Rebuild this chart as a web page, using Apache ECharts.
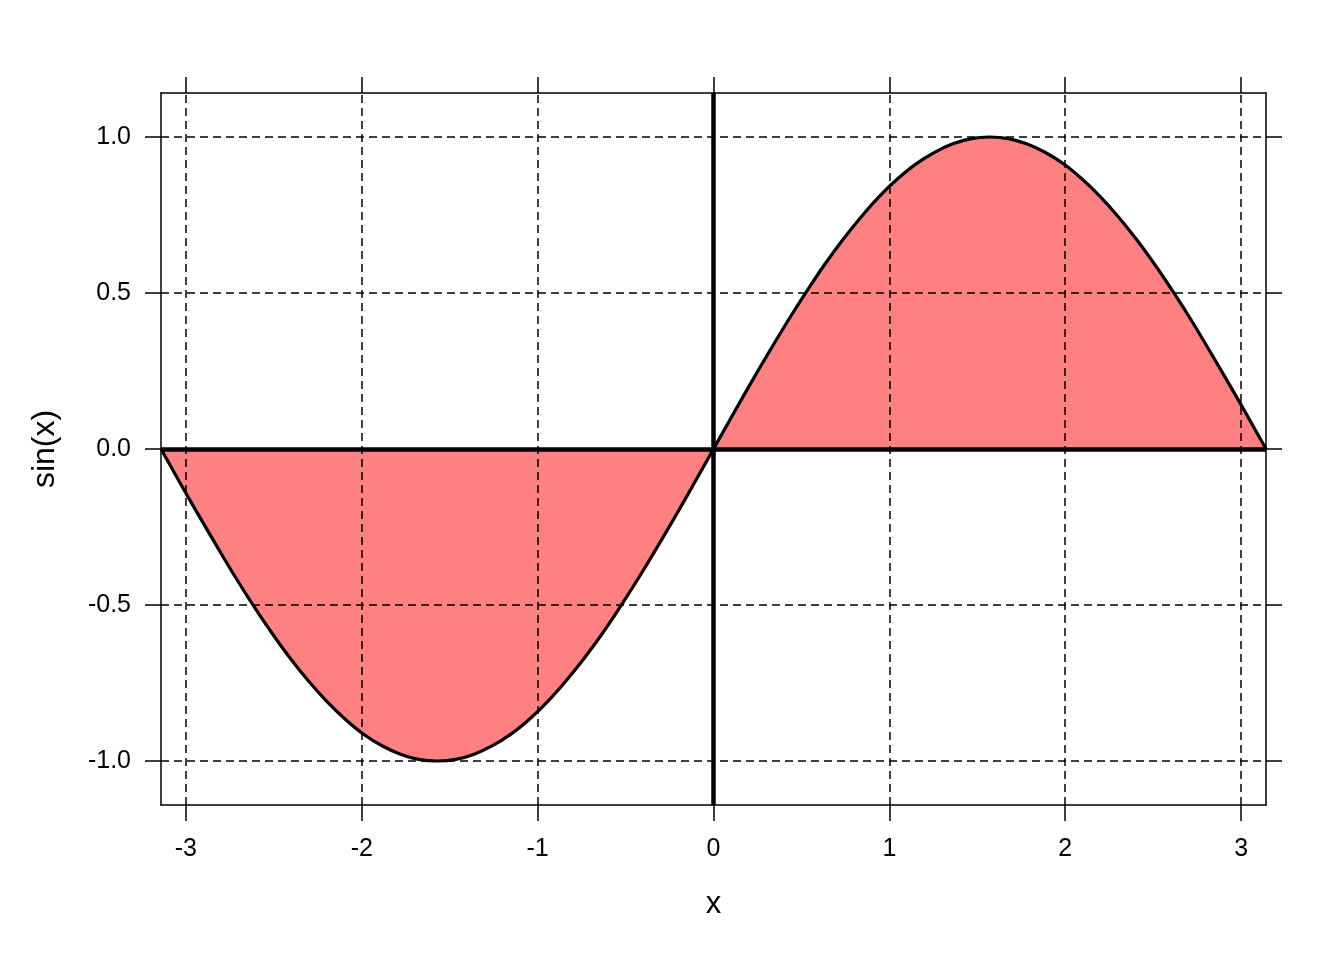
<!DOCTYPE html>
<html>
<head>
<meta charset="utf-8">
<script src="https://cdn.jsdelivr.net/npm/echarts@6/dist/echarts.min.js"></script>
<style>html,body{margin:0;padding:0;background:#fff}#c{width:1344px;height:960px}</style>
</head>
<body>
<div id="c"></div>
<script>
// Data
const xValues = [-3.1416,-3.037,-2.932,-2.827,-2.723,-2.618,-2.513,-2.409,-2.304,-2.199,-2.094,-1.990,-1.885,-1.780,-1.676,-1.571,-1.466,-1.361,-1.257,-1.152,-1.047,-0.942,-0.838,-0.733,-0.628,-0.524,-0.419,-0.314,-0.209,-0.105,0,
  0.105,0.209,0.314,0.419,0.524,0.628,0.733,0.838,0.942,1.047,1.152,1.257,1.361,1.466,1.571,1.676,1.780,1.885,1.990,2.094,2.199,2.304,2.409,2.513,2.618,2.723,2.827,2.932,3.037,3.1416];
const yValues = [0,-0.105,-0.208,-0.309,-0.407,-0.5,-0.588,-0.669,-0.743,-0.809,-0.866,-0.914,-0.951,-0.978,-0.995,-1,-0.995,-0.978,-0.951,-0.914,-0.866,-0.809,-0.743,-0.669,-0.588,-0.5,-0.407,-0.309,-0.208,-0.105,0,
  0.105,0.208,0.309,0.407,0.5,0.588,0.669,0.743,0.809,0.866,0.914,0.951,0.978,0.995,1,0.995,0.978,0.951,0.914,0.866,0.809,0.743,0.669,0.588,0.5,0.407,0.309,0.208,0.105,0];
const xTicks = [-3,-2,-1,0,1,2,3];
const yTicks = [-1.0,-0.5,0.0,0.5,1.0];
const xRange = [-3.1416, 3.1416];
const yRange = [-1.141, 1.141];
const xTitle = 'x';
const yTitle = 'sin(x)';

const pts = xValues.map((x,i)=>[x,yValues[i]]);
const FONT = 'Liberation Sans, Arial, sans-serif';

function axisCommon(extra){
  return Object.assign({
    type:'value',
    axisLine:{show:true,onZero:false,lineStyle:{color:'#000',width:1.5}},
    splitLine:{show:false},
    axisTick:{show:true,inside:false,length:16,lineStyle:{color:'#000',width:1.5}},
    axisLabel:{show:false},
  }, extra);
}

const chart = echarts.init(document.getElementById('c'), null, {renderer:'canvas'});
const gridMarks = xTicks.map(v=>({xAxis:v})).concat(yTicks.map(v=>({yAxis:v})));

chart.setOption({
  animation:false,
  backgroundColor:'#fff',
  grid:{left:161,right:78,top:93,bottom:155,containLabel:false},
  xAxis:[
    axisCommon({position:'bottom',min:xRange[0],max:xRange[1],
      axisTick:{show:true,inside:false,length:16,customValues:xTicks,lineStyle:{color:'#000',width:1.5}},
      axisLabel:{show:true,customValues:xTicks,margin:32,color:'#000',fontSize:25,fontFamily:FONT,formatter:v=>String(Math.round(v))},
      name:xTitle,nameLocation:'middle',nameGap:84,nameTextStyle:{color:'#000',fontSize:31,fontFamily:FONT}}),
    axisCommon({position:'top',min:xRange[0],max:xRange[1],
      axisTick:{show:true,inside:false,length:16,customValues:xTicks,lineStyle:{color:'#000',width:1.5}}})
  ],
  yAxis:[
    axisCommon({position:'left',min:yRange[0],max:yRange[1],
      axisTick:{show:true,inside:false,length:16,customValues:yTicks,lineStyle:{color:'#000',width:1.5}},
      axisLabel:{show:true,customValues:yTicks,margin:30,color:'#000',fontSize:25,fontFamily:FONT,formatter:v=>v.toFixed(1)},
      name:yTitle,nameLocation:'middle',nameGap:100,nameRotate:90,nameTextStyle:{color:'#000',fontSize:32,fontFamily:FONT}}),
    axisCommon({position:'right',min:yRange[0],max:yRange[1],
      axisTick:{show:true,inside:false,length:16,customValues:yTicks,lineStyle:{color:'#000',width:1.5}}})
  ],
  series:[
    {type:'line',data:pts,showSymbol:false,silent:true,z:1,smooth:0.3,
      lineStyle:{width:0,opacity:0},areaStyle:{color:'#FF8080',opacity:1,origin:0}},
    {type:'line',data:[],silent:true,z:2,
      markLine:{silent:true,symbol:['none','none'],label:{show:false},
        lineStyle:{color:'#000',width:1.5,type:[8,5]},data:gridMarks}},
    {type:'line',data:pts,showSymbol:false,silent:true,z:3,smooth:0.3,
      lineStyle:{color:'#000',width:3.2}},
    {type:'line',data:[],silent:true,z:4,
      markLine:{silent:true,symbol:['none','none'],label:{show:false},
        lineStyle:{color:'#000',width:4.5,type:'solid'},data:[{xAxis:0},{yAxis:0}]}}
  ]
});
</script>
</body>
</html>
